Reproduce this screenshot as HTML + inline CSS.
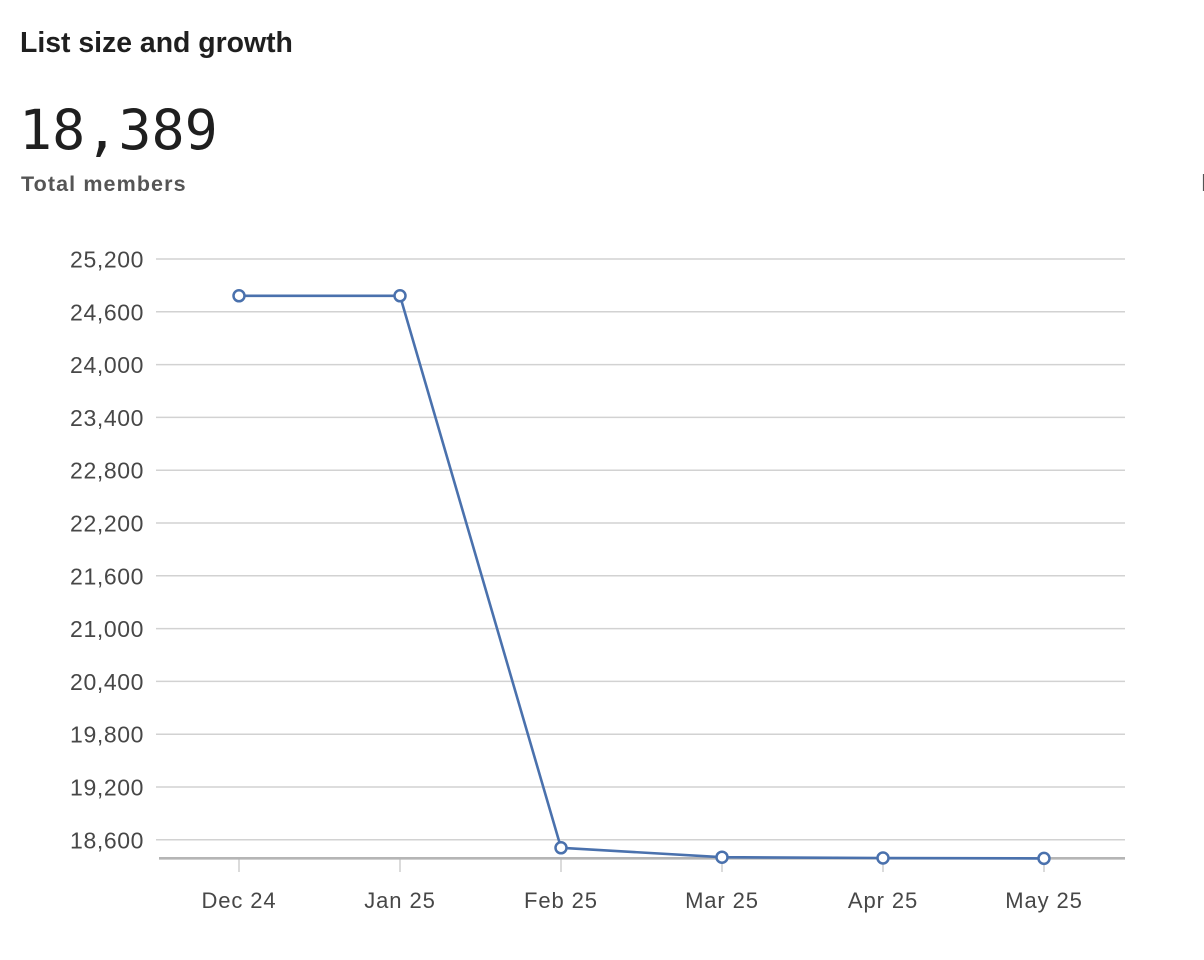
<!DOCTYPE html>
<html>
<head>
<meta charset="utf-8">
<style>
  html,body{margin:0;padding:0;background:#fff;}
  body{width:1204px;height:960px;overflow:hidden;}
  svg{display:block;}
  .ttl{font-family:"Liberation Sans",sans-serif;font-weight:bold;font-size:28.4px;fill:#1f1f1f;}
  .big{font-family:"DejaVu Sans Mono","Liberation Mono",monospace;font-size:55px;fill:#1f1f1f;}
  .sub{font-family:"Liberation Sans",sans-serif;font-weight:bold;font-size:21.5px;fill:#555;letter-spacing:1.1px;}
  .yl{font-family:"Liberation Sans",sans-serif;font-size:23px;fill:#474747;letter-spacing:0.6px;}
  .xl{font-family:"Liberation Sans",sans-serif;font-size:22px;fill:#474747;letter-spacing:0.9px;}
</style>
</head>
<body>
<svg width="1204" height="960" viewBox="0 0 1204 960" xmlns="http://www.w3.org/2000/svg">
  <text class="ttl" x="20" y="52">List size and growth</text>
  <text class="big" x="19" y="149">18,389</text>
  <text class="sub" x="21" y="191">Total members</text>
  <line x1="1203.5" y1="174" x2="1203.5" y2="191" stroke="#555" stroke-width="1.2"/>

  <!-- gridlines -->
  <g stroke="#d2d2d2" stroke-width="1.5">
    <line x1="156" y1="259" x2="1125" y2="259"/>
    <line x1="156" y1="311.8" x2="1125" y2="311.8"/>
    <line x1="156" y1="364.6" x2="1125" y2="364.6"/>
    <line x1="156" y1="417.4" x2="1125" y2="417.4"/>
    <line x1="156" y1="470.2" x2="1125" y2="470.2"/>
    <line x1="156" y1="523" x2="1125" y2="523"/>
    <line x1="156" y1="575.8" x2="1125" y2="575.8"/>
    <line x1="156" y1="628.6" x2="1125" y2="628.6"/>
    <line x1="156" y1="681.4" x2="1125" y2="681.4"/>
    <line x1="156" y1="734.2" x2="1125" y2="734.2"/>
    <line x1="156" y1="787" x2="1125" y2="787"/>
    <line x1="156" y1="839.8" x2="1125" y2="839.8"/>
  </g>

  <!-- y labels -->
  <g class="yl" text-anchor="end">
    <text x="144" y="267.5">25,200</text>
    <text x="144" y="320.5">24,600</text>
    <text x="144" y="373">24,000</text>
    <text x="144" y="426">23,400</text>
    <text x="144" y="478.5">22,800</text>
    <text x="144" y="531.5">22,200</text>
    <text x="144" y="584.5">21,600</text>
    <text x="144" y="637">21,000</text>
    <text x="144" y="690">20,400</text>
    <text x="144" y="742.5">19,800</text>
    <text x="144" y="795.5">19,200</text>
    <text x="144" y="848.5">18,600</text>
  </g>

  <!-- ticks -->
  <g stroke="#cfcfcf" stroke-width="1.5">
    <line x1="239" y1="859" x2="239" y2="872"/>
    <line x1="400" y1="859" x2="400" y2="872"/>
    <line x1="561" y1="859" x2="561" y2="872"/>
    <line x1="722" y1="859" x2="722" y2="872"/>
    <line x1="883" y1="859" x2="883" y2="872"/>
    <line x1="1044" y1="859" x2="1044" y2="872"/>
  </g>
  <!-- baseline -->
  <line x1="159" y1="858.3" x2="1125" y2="858.3" stroke="#b5b5b5" stroke-width="2.6"/>

  <!-- x labels -->
  <g class="xl" text-anchor="middle">
    <text x="239" y="908">Dec 24</text>
    <text x="400" y="908">Jan 25</text>
    <text x="561" y="908">Feb 25</text>
    <text x="722" y="908">Mar 25</text>
    <text x="883" y="908">Apr 25</text>
    <text x="1044" y="908">May 25</text>
  </g>

  <!-- series -->
  <polyline fill="none" stroke="#4a71ad" stroke-width="2.6" stroke-linejoin="round"
    points="239,295.8 400,295.8 561,847.8 722,857.2 883,858 1044,858.4"/>
  <g fill="#fff" stroke="#4a71ad" stroke-width="2.5">
    <circle cx="239" cy="295.8" r="5.5"/>
    <circle cx="400" cy="295.8" r="5.5"/>
    <circle cx="561" cy="847.8" r="5.5"/>
    <circle cx="722" cy="857.2" r="5.5"/>
    <circle cx="883" cy="858" r="5.5"/>
    <circle cx="1044" cy="858.4" r="5.5"/>
  </g>
</svg>
</body>
</html>
